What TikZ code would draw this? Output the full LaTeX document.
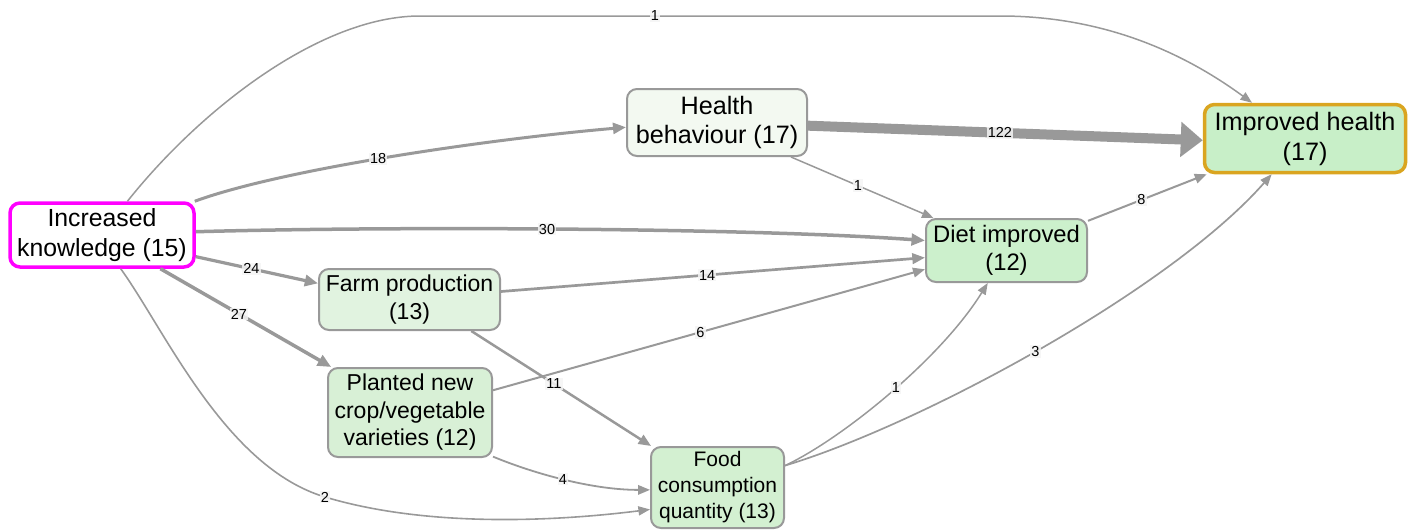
\documentclass[tikz,border=0pt]{standalone}
\usepackage{fontspec}
\setmainfont{Liberation Sans}
\usetikzlibrary{arrows.meta}
\definecolor{eg}{HTML}{999999}
\definecolor{ng}{HTML}{999999}
\definecolor{mag}{HTML}{FF00FF}
\definecolor{gold}{HTML}{DAA520}
\definecolor{fhb}{HTML}{F3F9F1}
\definecolor{fih}{HTML}{C8EFC8}
\definecolor{fdi}{HTML}{CCF0CC}
\definecolor{ffp}{HTML}{E1F3E0}
\definecolor{fpn}{HTML}{D8F0D6}
\definecolor{ffc}{HTML}{D3F0D1}
\definecolor{lblbg}{HTML}{F4F4F4}
\begin{document}
\begin{tikzpicture}[x=1pt,y=-1pt,
  box/.style={draw=ng, line width=2pt, rounded corners=10pt, inner sep=0pt, align=center, text=black},
  e/.style={draw=eg, line width=#1, -{Triangle[length=10pt 1, width=7pt 1.3]}},
  lbl/.style={font=\fontsize{14.5}{14.5}\selectfont, fill=lblbg, fill opacity=0.85, text opacity=1, inner sep=1.2pt}]
\useasboundingbox (0,0) rectangle (1416,530);

\node[box, draw=mag, line width=3.5pt, fill=white, minimum width=184pt, minimum height=64pt,
  font=\fontsize{24.8}{29.5}\selectfont] (ik) at (102,235) {Increased\\knowledge (15)};
\node[box, fill=fhb, minimum width=180pt, minimum height=67pt,
  font=\fontsize{25.2}{29.5}\selectfont] (hb) at (717,122.5) {Health\\behaviour (17)};
\node[box, draw=gold, line width=3.5pt, fill=fih, minimum width=201pt, minimum height=68pt,
  font=\fontsize{25.2}{30}\selectfont] (ih) at (1305,138.5) {Improved health\\(17)};
\node[box, fill=fdi, minimum width=161pt, minimum height=63pt,
  font=\fontsize{23.8}{28.5}\selectfont] (di) at (1006.5,250.5) {Diet improved\\(12)};
\node[box, fill=ffp, minimum width=181pt, minimum height=61pt,
  font=\fontsize{23}{27.5}\selectfont] (fp) at (409.5,299.5) {Farm production\\(13)};
\node[box, fill=fpn, minimum width=164pt, minimum height=89pt,
  font=\fontsize{23}{27.5}\selectfont] (pn) at (410,412.5) {Planted new\\crop/vegetable\\varieties (12)};
\node[box, fill=ffc, minimum width=133pt, minimum height=81pt,
  font=\fontsize{21}{26}\selectfont] (fc) at (717.5,487.5) {Food\\consumption\\quantity (13)};

% IK -> IH
\draw[e=1.5pt] (ik.53) .. controls (200,110) and (320,16) .. (420,16)
  -- node[lbl,pos=0.405]{1} (1000,16) .. controls (1100,16) and (1180,50) .. (ih.146);
% IK -> HB
\draw[e=3pt] (ik.20) .. controls (280,170) and (480,140) .. node[lbl,pos=0.48]{18} (hb.183);
% IK -> DI
\draw[e=3.5pt] (ik.2) .. controls (400,226) and (750,228) .. node[lbl,pos=0.47]{30} (di.173);
% IK -> FP
\draw[e=3.2pt] (ik.-13) -- node[lbl,pos=0.455]{24} (fp.170);
% IK -> PN
\draw[e=3.5pt] (ik.-30) -- node[lbl,pos=0.46]{27} (pn.150);
% IK -> FC
\draw[e=1.6pt] (ik.-61) .. controls (165,330) and (225,467) .. (325,497)
  node[lbl]{2} .. controls (425,527) and (550,522) .. (fc.198);
% HB -> IH
\draw[draw=eg, line width=10pt, -{Triangle[length=22pt 0, width=34pt 0]}] (hb.-2) -- node[lbl,pos=0.486]{122} (ih.181);
% HB -> DI
\draw[e=1.5pt] (hb.-25) -- node[lbl,pos=0.47]{1} (di.156);
% DI -> IH
\draw[e=2pt] (di.20) -- node[lbl,pos=0.45]{8} (ih.200);
% FP -> DI
\draw[e=2.7pt] (fp.5) -- node[lbl,pos=0.486]{14} (di.185);
% FP -> FC
\draw[e=2.5pt] (fp.-27) -- node[lbl,pos=0.46]{11} (fc.148);
% PN -> DI
\draw[e=2pt] (pn.15) -- node[lbl,pos=0.48]{6} (di.193);
% PN -> FC
\draw[e=1.8pt] (pn.-28) .. controls (530,472) and (590,490) .. node[lbl,pos=0.5]{4} (fc.182);
% FC -> DI
\draw[e=1.5pt] (fc.18) .. controls (840,440) and (940,360) .. node[lbl,pos=0.53]{1} (di.240);
% FC -> IH
\draw[e=1.7pt] (fc.18) .. controls (920,425) and (1170,290) .. node[lbl,pos=0.49]{3} (ih.227);
\end{tikzpicture}
\end{document}
